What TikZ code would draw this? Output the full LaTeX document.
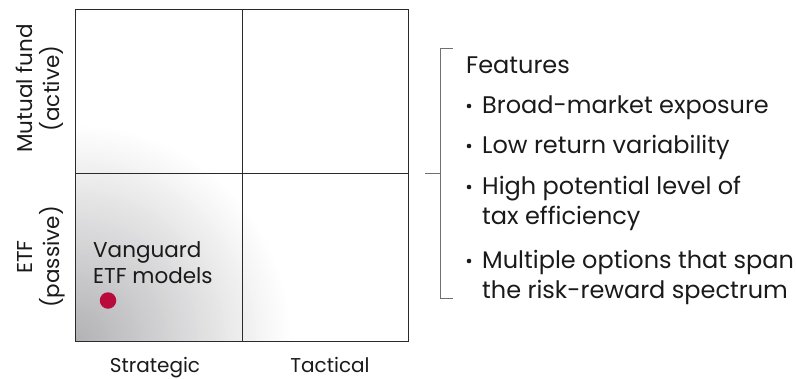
\documentclass[tikz,border=0pt]{standalone}
\usepackage{fontspec}
\setmainfont{Poppins}
\definecolor{ink}{HTML}{1A1A1A}
\definecolor{gridc}{HTML}{2A2A2A}
\definecolor{brk}{HTML}{707070}
\definecolor{dotred}{RGB}{185,10,60}
\definecolor{fadegray}{HTML}{B2B2B5}
\begin{document}
\begin{tikzpicture}[x=1pt,y=-1pt,
  txt/.style={text=ink,inner sep=0pt},
  big/.style={txt,font=\fontsize{24}{28}\selectfont},
  mid/.style={txt,font=\fontsize{21.5}{26}\selectfont},
  small/.style={txt,font=\fontsize{20}{24}\selectfont},
  gridline/.style={draw=gridc,line width=0.9pt},
  brackline/.style={draw=brk,line width=0.9pt},
  bullet/.style={circle,fill=ink,minimum size=4.6pt,inner sep=0pt}]
\useasboundingbox (0,0) rectangle (797,378);
% gradient (concentric rings from the lower-left corner)
\coordinate (corner) at (75,341);
\begin{scope}
  \clip (75,9) rectangle (408,341);
  \foreach \i [evaluate=\i as \p using {100*(1-(\i-0.5)/70)}] in {70,69,...,1}{
    \fill[fadegray!\p!white] (corner) circle ({215*\i/70});
  }
\end{scope}
% grid
\coordinate (tl) at (75,9);
\coordinate (br) at (408,341);
\draw[gridline] (tl) rectangle (br);
\coordinate (vt) at (242,9);
\coordinate (vb) at (242,341);
\coordinate (hl) at (75,173);
\coordinate (hr) at (408,173);
\draw[gridline] (vt) -- (vb);
\draw[gridline] (hl) -- (hr);
% row labels
\node[mid,rotate=90,anchor=base] (mf) at (32,88.5) {Mutual fund};
\node[mid,rotate=90,anchor=base] (act) at (59,88.5) {(active)};
\node[mid,rotate=90,anchor=base] (etf) at (32,257) {ETF};
\node[mid,rotate=90,anchor=base] (pas) at (59,257) {(passive)};
% column labels
\node[small,anchor=base] (strat) at (155,372.5) {Strategic};
\node[small,anchor=base] (tact) at (330,372.5) {Tactical};
% Vanguard
\node[mid,anchor=base west] (vg1) at (93,257) {Vanguard};
\node[mid,anchor=base west] (vg2) at (93,283) {ETF models};
\node[circle,fill=dotred,minimum size=16.5pt,inner sep=0pt] (dot) at (108,300.5) {};
% bracket
\coordinate (b1) at (453,48);
\coordinate (b2) at (440,48);
\coordinate (b3) at (440,298);
\coordinate (b4) at (453,298);
\coordinate (m1) at (425,173);
\coordinate (m2) at (440,173);
\draw[brackline] (b1) -- (b2) -- (b3) -- (b4);
\draw[brackline] (m1) -- (m2);
% features
\node[big,anchor=base west] (feat) at (466,73) {Features};
\node[big,anchor=base west] (f1) at (482,113) {Broad-market exposure};
\node[big,anchor=base west] (f2) at (482,153) {Low return variability};
\node[big,anchor=base west] (f3a) at (482,194) {High potential level of};
\node[big,anchor=base west] (f3b) at (482,224) {tax efficiency};
\node[big,anchor=base west] (f4a) at (482,268) {Multiple options that span};
\node[big,anchor=base west] (f4b) at (482,298) {the risk-reward spectrum};
\foreach \n in {f1,f2,f3a,f4a}{
  \node[bullet] (\n-b) at ([xshift=-13pt,yshift=7pt]\n.base west) {};
}
\end{tikzpicture}
\end{document}
